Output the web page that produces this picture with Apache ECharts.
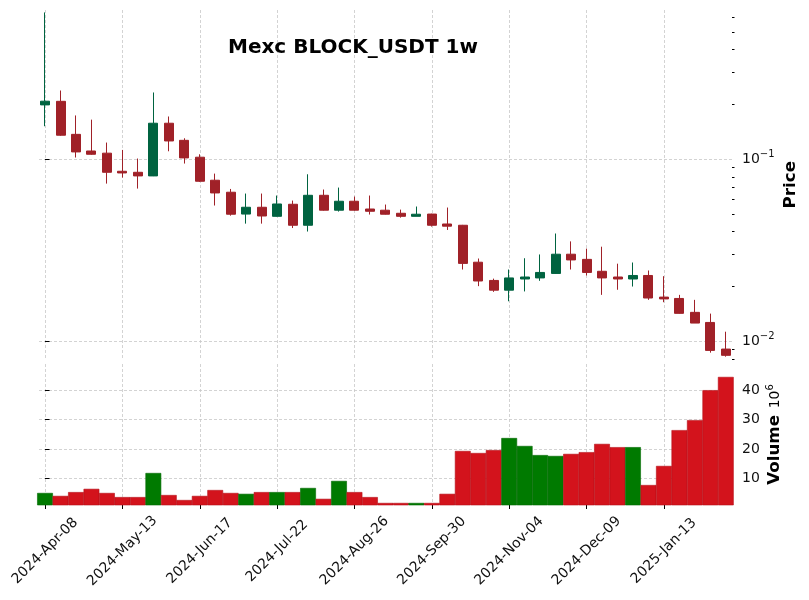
<!DOCTYPE html>
<html>
<head>
<meta charset="utf-8">
<script src="https://cdn.jsdelivr.net/npm/echarts@6/dist/echarts.min.js"></script>
<style>
html, body { margin: 0; padding: 0; background: #fff; }
#chart { width: 809px; height: 600px; }
</style>
</head>
<body>
<div id="chart"></div>
<script>
// weekly candles, Mexc BLOCK_USDT
var weeks = [
  '2024-Apr-08','2024-Apr-15','2024-Apr-22','2024-Apr-29','2024-May-06','2024-May-13','2024-May-20','2024-May-27',
  '2024-Jun-03','2024-Jun-10','2024-Jun-17','2024-Jun-24','2024-Jul-01','2024-Jul-08','2024-Jul-15','2024-Jul-22',
  '2024-Jul-29','2024-Aug-05','2024-Aug-12','2024-Aug-19','2024-Aug-26','2024-Sep-02','2024-Sep-09','2024-Sep-16',
  '2024-Sep-23','2024-Sep-30','2024-Oct-07','2024-Oct-14','2024-Oct-21','2024-Oct-28','2024-Nov-04','2024-Nov-11',
  '2024-Nov-18','2024-Nov-25','2024-Dec-02','2024-Dec-09','2024-Dec-16','2024-Dec-23','2024-Dec-30','2025-Jan-06',
  '2025-Jan-13','2025-Jan-20','2025-Jan-27','2025-Feb-03','2025-Feb-10'
];
var opens = [
  0.1988, 0.208, 0.137, 0.111, 0.108, 0.0859, 0.0848, 0.081, 0.1577, 0.127,
  0.1026, 0.0767, 0.0659, 0.0500, 0.0545, 0.0486, 0.0566, 0.0434, 0.0634, 0.0525,
  0.0588, 0.0533, 0.0525, 0.0505, 0.0486, 0.0500, 0.0441, 0.0434, 0.0272, 0.0216,
  0.0191, 0.0220, 0.0223, 0.0236, 0.0301, 0.0282, 0.02425, 0.02256, 0.0220, 0.0230,
  0.0175, 0.0172, 0.01443, 0.0127, 0.00907
];
var highs = [
  0.64, 0.2385, 0.174, 0.165, 0.1235, 0.1125, 0.1009, 0.2326, 0.1717, 0.1304,
  0.1065, 0.0834, 0.0687, 0.0648, 0.0648, 0.0632, 0.0593, 0.0827, 0.0682, 0.0699,
  0.0624, 0.0632, 0.0564, 0.0529, 0.055, 0.0502, 0.0543, 0.0436, 0.0285, 0.0221,
  0.0248, 0.0286, 0.0300, 0.0391, 0.0354, 0.0323, 0.0331, 0.0267, 0.0271, 0.0245,
  0.0228, 0.0180, 0.0169, 0.0142, 0.0113
];
var lows = [
  0.1518, 0.1345, 0.1022, 0.1058, 0.0735, 0.0793, 0.069, 0.0808, 0.1106, 0.0947,
  0.0750, 0.0557, 0.049, 0.0443, 0.0443, 0.0484, 0.0419, 0.0401, 0.0522, 0.0516,
  0.0522, 0.0497, 0.0497, 0.0478, 0.0486, 0.0427, 0.0409, 0.0248, 0.0201, 0.0187,
  0.0166, 0.0188, 0.0215, 0.0235, 0.0248, 0.0230, 0.0180, 0.0192, 0.0200, 0.0169,
  0.0164, 0.0142, 0.0126, 0.00867, 0.00824
];
var closes = [
  0.2083, 0.1355, 0.1097, 0.1065, 0.0848, 0.0841, 0.081, 0.1577, 0.126, 0.1017,
  0.0757, 0.0653, 0.0499, 0.0545, 0.0488, 0.0568, 0.0434, 0.0634, 0.0525, 0.0588,
  0.0525, 0.0518, 0.0499, 0.0486, 0.0499, 0.0434, 0.0429, 0.0268, 0.02145, 0.0191,
  0.0223, 0.02256, 0.0239, 0.0301, 0.0280, 0.0239, 0.0223, 0.0220, 0.0230, 0.0173,
  0.0171, 0.01425, 0.0126, 0.00892, 0.00838
];
// volume in millions
var volumes = [
  5.0, 4.0, 5.3, 6.4, 5.0, 3.6, 3.6, 11.8, 4.3, 2.6,
  4.0, 6.0, 5.0, 4.7, 5.3, 5.3, 5.3, 6.7, 3.0, 9.1,
  5.3, 3.6, 1.6, 1.6, 1.6, 1.6, 4.7, 19.3, 18.6, 19.6,
  23.7, 21.0, 17.9, 17.6, 18.3, 18.9, 21.7, 20.6, 20.6, 7.7,
  14.2, 26.4, 29.8, 40.0, 44.5
];
var dateTicks = [0, 5, 10, 15, 20, 25, 30, 35, 40];
var priceMajor = [0.01, 0.1];
var priceMinor = [0.008, 0.009, 0.02, 0.03, 0.04, 0.05, 0.06, 0.07, 0.08, 0.09, 0.2, 0.3, 0.4, 0.5, 0.6];
var volumeTicks = [10, 20, 30, 40];

var upCandle = '#006340', downCandle = '#a02128';
var upVol = '#007a00', downVol = '#d3131c';
var font = 'DejaVu Sans';
var lg = Math.log10;

var xMin = -0.39, xMax = 44.4;
var gridLeft = 39, gridRight = 77;
var gridWidth = 809 - gridLeft - gridRight;
var pxPerWeek = gridWidth / (xMax - xMin);
var priceMin = lg(0.00795), priceMax = lg(0.66);

var candleData = weeks.map(function (w, i) {
  return [i, lg(opens[i]), lg(closes[i]), lg(lows[i]), lg(highs[i])];
});
var volumeData = weeks.map(function (w, i) {
  var up = closes[i] >= opens[i];
  return {
    value: [i, volumes[i]],
    itemStyle: { color: up ? upVol : downVol, borderColor: up ? '#006800' : '#b50f17' }
  };
});

var gridLine = { show: true, lineStyle: { color: '#c8c8c8', type: [3, 2], width: 0.8 } };
var myChart = echarts.init(document.getElementById('chart'));
myChart.setOption({
  animation: false,
  backgroundColor: '#fff',
  title: {
    text: 'Mexc BLOCK_USDT 1w',
    left: 223, top: 33,
    textStyle: { fontFamily: font, fontSize: 20, fontWeight: 'bold', color: '#000' }
  },
  grid: [
    { left: gridLeft, right: gridRight, top: 10, bottom: 240.5 },
    { left: gridLeft, right: gridRight, top: 364, bottom: 95 }
  ],
  xAxis: [
    {
      type: 'value', gridIndex: 0, min: xMin, max: xMax,
      axisLine: { show: false },
      axisTick: { show: false, customValues: dateTicks },
      axisLabel: { show: false, customValues: dateTicks },
      splitLine: gridLine
    },
    {
      type: 'value', gridIndex: 1, min: xMin, max: xMax,
      axisLine: { show: false },
      axisTick: { show: true, length: 4, customValues: dateTicks, lineStyle: { color: '#000', width: 1 } },
      axisLabel: {
        customValues: dateTicks,
        rotate: 45, align: 'center', verticalAlign: 'middle', margin: 46,
        fontFamily: font, fontSize: 14, color: '#111',
        formatter: function (v) { return weeks[Math.round(v)]; }
      },
      splitLine: gridLine
    }
  ],
  yAxis: [
    {
      type: 'value', gridIndex: 0, position: 'right', min: priceMin, max: priceMax,
      axisLine: { show: false },
      axisTick: { show: true, length: 4.5, customValues: priceMajor.map(lg), lineStyle: { color: '#000', width: 1 } },
      axisLabel: {
        customValues: priceMajor.map(lg), margin: 10,
        formatter: function (v) { return '{b|10}{s|\u2212' + Math.round(-v) + '}'; },
        rich: {
          b: { fontFamily: font, fontSize: 14, color: '#111', lineHeight: 20 },
          s: { fontFamily: font, fontSize: 10, color: '#111', verticalAlign: 'top', lineHeight: 12 }
        }
      },
      splitLine: gridLine,
      name: 'Price', nameLocation: 'middle', nameRotate: 90, nameGap: 50, nameMoveOverlap: false,
      nameTextStyle: { fontFamily: font, fontSize: 16.7, fontWeight: 'bold', color: '#000' }
    },
    {
      // minor log ticks, moved onto the right edge
      type: 'value', gridIndex: 0, position: 'left', offset: -gridWidth, min: priceMin, max: priceMax,
      axisLine: { show: false },
      axisTick: { show: true, inside: true, length: 2.5, customValues: priceMinor.map(lg), lineStyle: { color: '#000', width: 1 } },
      axisLabel: { show: false },
      splitLine: { show: false }
    },
    {
      type: 'value', gridIndex: 1, position: 'right', min: 0.9, max: 48.9,
      axisLine: { show: false },
      axisTick: { show: true, length: 4.5, customValues: volumeTicks, lineStyle: { color: '#000', width: 1 } },
      axisLabel: { customValues: volumeTicks, margin: 10, fontFamily: font, fontSize: 14, color: '#111' },
      splitLine: gridLine,
      name: '{v|Volume}  {b|10}{s|6}', nameLocation: 'middle', nameRotate: 90, nameGap: 33, nameMoveOverlap: false,
      nameTextStyle: {
        rich: {
          v: { fontFamily: font, fontSize: 16.7, fontWeight: 'bold', color: '#000', lineHeight: 20 },
          b: { fontFamily: font, fontSize: 14, color: '#000', lineHeight: 20 },
          s: { fontFamily: font, fontSize: 10, color: '#000', verticalAlign: 'top', lineHeight: 12 }
        }
      }
    }
  ],
  series: [
    {
      type: 'candlestick', xAxisIndex: 0, yAxisIndex: 0,
      encode: { x: 0, y: [1, 2, 3, 4] },
      barWidth: 9.5,
      itemStyle: { color: upCandle, color0: downCandle, borderColor: upCandle, borderColor0: downCandle, borderWidth: 1 },
      data: candleData
    },
    {
      type: 'bar', xAxisIndex: 1, yAxisIndex: 2,
      barWidth: pxPerWeek + 0.3,
      itemStyle: { borderWidth: 0.6 },
      data: volumeData
    }
  ]
});
</script>
</body>
</html>
